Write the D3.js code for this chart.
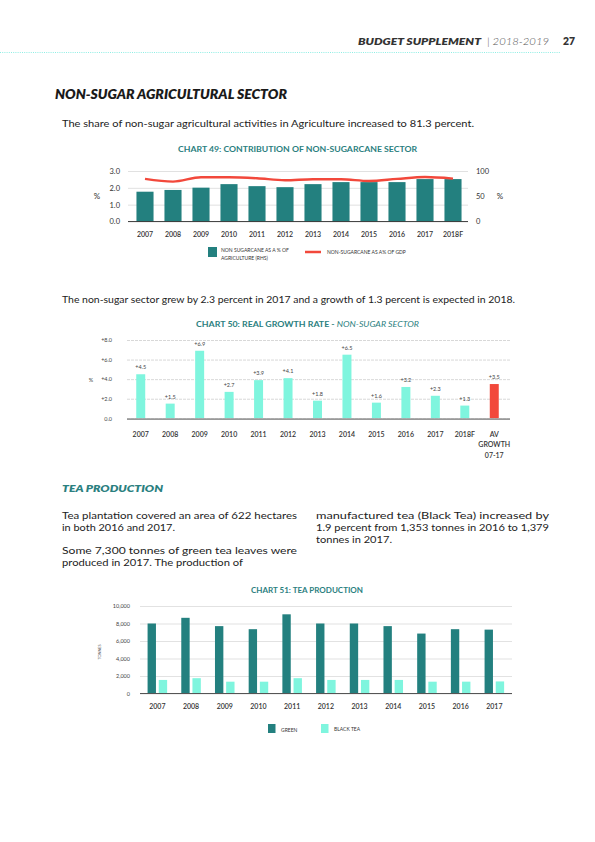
<!DOCTYPE html>
<html><head><meta charset="utf-8">
<script src="https://cdn.jsdelivr.net/npm/d3@7"></script>
<style>html,body{margin:0;padding:0;background:#fff}svg{display:block}</style>
</head><body>
<script>
// ---------- DATA ----------
const years49 = ['2007','2008','2009','2010','2011','2012','2013','2014','2015','2016','2017','2018F'];
const agriShare = [59, 62.5, 67, 74, 70, 68, 74, 78, 78, 78, 84, 84];           // bars, RHS (%)
const gdpShare = [2.53, 2.37, 2.63, 2.63, 2.57, 2.45, 2.51, 2.51, 2.41, 2.53, 2.64, 2.55]; // line, LHS (%)
const ticks49L = [0, 1, 2, 3];
const ticks49R = [0, 50, 100];

const cats50 = ['2007','2008','2009','2010','2011','2012','2013','2014','2015','2016','2017','2018F','AV GROWTH 07-17'];
const growth50 = [4.5, 1.5, 6.9, 2.7, 3.9, 4.1, 1.8, 6.5, 1.6, 3.2, 2.3, 1.3, 3.5];
const ticks50 = [0, 2, 4, 6, 8];

const years51 = ['2007','2008','2009','2010','2011','2012','2013','2014','2015','2016','2017'];
const greenLeaf = [8000, 8650, 7700, 7350, 9050, 8000, 8000, 7700, 6850, 7350, 7300];
const blackTea = [1550, 1750, 1350, 1350, 1750, 1550, 1550, 1550, 1350, 1353, 1379];
const ticks51 = [0, 2000, 4000, 6000, 8000, 10000];

// ---------- STYLE ----------
const TEAL = '#23807f', CYAN = '#7ff5de', RED = '#f2483b', TITLE = '#2b8080', INK = '#222';
const FONT = 'Lato, "Noto Sans", sans-serif';

const svg = d3.select('body').append('svg').attr('width', 595).attr('height', 842)
  .style('font-family', FONT);
svg.append('rect').attr('width', 595).attr('height', 842).attr('fill', '#fff');

function txt(g, x, y, s, o = {}) {
  const t = g.append('text').attr('x', x).attr('y', y).text(s)
    .attr('font-size', o.size || 10).attr('fill', o.fill || INK)
    .attr('text-anchor', o.anchor || 'start');
  if (o.weight) t.attr('font-weight', o.weight);
  if (o.italic) t.attr('font-style', 'italic');
  if (o.len) t.attr('textLength', o.len).attr('lengthAdjust', 'spacingAndGlyphs');
  return t;
}

// ---------- HEADER ----------
txt(svg, 358, 45, 'BUDGET SUPPLEMENT', {size: 10, weight: 800, italic: true, fill: '#333', len: 123});
txt(svg, 487, 45, '| 2018-2019', {size: 10, weight: 300, italic: true, fill: '#555', len: 62});
txt(svg, 563, 45, '27', {size: 10.5, weight: 800, fill: '#333', len: 12});
svg.append('line').attr('x1', 0).attr('x2', 561).attr('y1', 52.5).attr('y2', 52.5)
  .attr('stroke', '#8eeee4').attr('stroke-width', 1.2).attr('stroke-dasharray', '1,1.2');

txt(svg, 55, 99, 'NON-SUGAR AGRICULTURAL SECTOR', {size: 12.5, weight: 800, italic: true, fill: '#1a1a1a', len: 232});
txt(svg, 62, 127, 'The share of non-sugar agricultural activities in Agriculture increased to 81.3 percent.', {size: 10, len: 412});

// ---------- CHART 49 ----------
{
  const g = svg.append('g');
  txt(g, 297.5, 152, 'CHART 49: CONTRIBUTION OF NON-SUGARCANE SECTOR', {size: 7.6, weight: 700, fill: TITLE, anchor: 'middle', len: 239});
  const x = d3.scaleBand().domain(years49).range([131, 467]).paddingInner(0.39).paddingOuter(0.195);
  const yL = d3.scaleLinear().domain([0, 3]).range([221.5, 171]);
  const yR = d3.scaleLinear().domain([0, 100]).range([221.5, 171]);

  const ax = g.append('g').attr('transform', 'translate(128,0)')
    .call(d3.axisLeft(yL).tickValues(ticks49L).tickFormat(d3.format('.1f')).tickSize(-340).tickPadding(8));
  ax.select('.domain').remove();
  ax.selectAll('line').attr('stroke', '#d4d4d4').attr('stroke-width', 0.7);
  ax.selectAll('text').attr('font-size', 7.5).attr('fill', '#333').attr('font-family', FONT);
  const axr = g.append('g').attr('transform', 'translate(468,0)')
    .call(d3.axisRight(yR).tickValues(ticks49R).tickSize(0).tickPadding(8));
  axr.select('.domain').remove();
  axr.selectAll('text').attr('font-size', 7.5).attr('fill', '#333').attr('font-family', FONT);

  g.selectAll('rect.b').data(agriShare).join('rect').attr('class', 'b')
    .attr('x', (d, i) => x(years49[i])).attr('width', x.bandwidth())
    .attr('y', d => yR(d)).attr('height', d => yR(0) - yR(d)).attr('fill', TEAL);
  g.append('line').attr('x1', 128).attr('x2', 468).attr('y1', yL(0)).attr('y2', yL(0))
    .attr('stroke', '#333').attr('stroke-width', 0.9);

  const line = d3.line().x((d, i) => x(years49[i]) + x.bandwidth() / 2).y(d => yL(d)).curve(d3.curveMonotoneX);
  g.append('path').datum(gdpShare).attr('d', line).attr('fill', 'none')
    .attr('stroke', RED).attr('stroke-width', 2.4);

  txt(g, 97, 199, '%', {size: 8, fill: '#333', anchor: 'middle'});
  txt(g, 500, 199, '%', {size: 8, fill: '#333', anchor: 'middle'});

  g.selectAll('text.cat').data(years49).join('text').attr('class', 'cat')
    .attr('x', d => x(d) + x.bandwidth() / 2).attr('y', 237).attr('text-anchor', 'middle')
    .attr('font-size', 7).attr('font-weight', 600).attr('fill', '#333').text(d => d);

  g.append('rect').attr('x', 208).attr('y', 247).attr('width', 9).attr('height', 10).attr('fill', TEAL);
  txt(g, 221, 252, 'NON SUGARCANE AS A % OF', {size: 5, fill: '#333'});
  txt(g, 221, 259.5, 'AGRICULTURE (RHS)', {size: 5, fill: '#333'});
  g.append('line').attr('x1', 305).attr('x2', 321).attr('y1', 252).attr('y2', 252)
    .attr('stroke', RED).attr('stroke-width', 2.5);
  txt(g, 327, 254, 'NON-SUGARCANE AS A% OF GDP', {size: 5, fill: '#333'});
}

txt(svg, 62, 303, 'The non-sugar sector grew by 2.3 percent in 2017 and a growth of 1.3 percent is expected in 2018.', {size: 10, len: 453});

// ---------- CHART 50 ----------
{
  const g = svg.append('g');
  const t = txt(g, 196, 327, 'CHART 50: REAL GROWTH RATE - ', {size: 7.6, weight: 700, fill: TITLE});
  t.append('tspan').attr('font-weight', 400).attr('font-style', 'italic').text('NON-SUGAR SECTOR');
  t.attr('textLength', 223).attr('lengthAdjust', 'spacingAndGlyphs');

  const x = d3.scaleBand().domain(cats50).range([126, 509]).paddingInner(0.695).paddingOuter(0.3475);
  const y = d3.scaleLinear().domain([0, 8]).range([418.3, 340]);

  const ax = g.append('g').attr('transform', 'translate(127,0)')
    .call(d3.axisLeft(y).tickValues(ticks50).tickFormat(d => d === 0 ? '0.0' : '+' + d3.format('.1f')(d)).tickSize(-383).tickPadding(15));
  ax.select('.domain').remove();
  ax.selectAll('line').attr('stroke', '#bdbdbd').attr('stroke-width', 0.6).attr('stroke-dasharray', '3,1');
  ax.selectAll('text').attr('font-size', 5.5).attr('fill', '#444').attr('font-family', FONT);

  g.selectAll('rect.b').data(growth50).join('rect').attr('class', 'b')
    .attr('x', (d, i) => x(cats50[i])).attr('width', x.bandwidth())
    .attr('y', d => y(d)).attr('height', d => y(0) - y(d))
    .attr('fill', (d, i) => i === cats50.length - 1 ? RED : CYAN);
  g.selectAll('text.v').data(growth50).join('text').attr('class', 'v')
    .attr('x', (d, i) => x(cats50[i]) + x.bandwidth() / 2).attr('y', d => y(d) - 5)
    .attr('text-anchor', 'middle').attr('font-size', 5.5).attr('fill', '#444')
    .text(d => '+' + d3.format('.1f')(d));
  g.append('line').attr('x1', 127).attr('x2', 510).attr('y1', y(0) + 0.8).attr('y2', y(0) + 0.8)
    .attr('stroke', '#999').attr('stroke-width', 1.8);

  txt(g, 91, 382, '%', {size: 5.5, fill: '#444', anchor: 'middle'});

  g.selectAll('text.cat').data(cats50).join('text').attr('class', 'cat')
    .attr('x', d => x(d) + x.bandwidth() / 2).attr('y', 436.5).attr('text-anchor', 'middle')
    .attr('font-size', 7).attr('font-weight', 600).attr('fill', '#333')
    .each(function (d) {
      const parts = d === 'AV GROWTH 07-17' ? ['AV', 'GROWTH', '07-17'] : [d];
      d3.select(this).selectAll('tspan').data(parts).join('tspan')
        .attr('x', d3.select(this).attr('x')).attr('dy', (p, k) => k === 0 ? 0 : 10.5).text(p => p);
    });
}

// ---------- TEA PRODUCTION TEXT ----------
txt(svg, 62, 492, 'TEA PRODUCTION', {size: 10, weight: 800, italic: true, fill: TITLE, len: 101});
txt(svg, 62, 519, 'Tea plantation covered an area of 622 hectares', {size: 10, len: 235});
txt(svg, 62, 531, 'in both 2016 and 2017.', {size: 10, len: 113});
txt(svg, 62, 554, 'Some 7,300 tonnes of green tea leaves were', {size: 10, len: 235});
txt(svg, 62, 566, 'produced in 2017. The production of', {size: 10, len: 181});
txt(svg, 316, 519, 'manufactured tea (Black Tea) increased by', {size: 10, len: 233});
txt(svg, 316, 531, '1.9 percent from 1,353 tonnes in 2016 to 1,379', {size: 10, len: 233});
txt(svg, 316, 543, 'tonnes in 2017.', {size: 10, len: 76});

// ---------- CHART 51 ----------
{
  const g = svg.append('g');
  txt(g, 307, 593, 'CHART 51: TEA PRODUCTION', {size: 7.6, weight: 700, fill: TITLE, anchor: 'middle', len: 112});
  const x0 = d3.scaleBand().domain(years51).range([140.5, 511.2]).paddingInner(0.42).paddingOuter(0.21);
  const x1 = d3.scaleBand().domain(['green', 'black']).range([0, x0.bandwidth()]).paddingInner(0.25);
  const y = d3.scaleLinear().domain([0, 10000]).range([693.5, 606]);

  const ax = g.append('g').attr('transform', 'translate(140,0)')
    .call(d3.axisLeft(y).tickValues(ticks51).tickFormat(d3.format(',')).tickSize(-372).tickPadding(10));
  ax.select('.domain').remove();
  ax.selectAll('line').attr('stroke', '#cfcfcf').attr('stroke-width', 0.6);
  ax.selectAll('text').attr('font-size', 5.5).attr('fill', '#444').attr('font-family', FONT);

  g.selectAll('rect.g').data(greenLeaf).join('rect').attr('class', 'g')
    .attr('x', (d, i) => x0(years51[i]) + x1('green')).attr('width', x1.bandwidth())
    .attr('y', d => y(d)).attr('height', d => y(0) - y(d)).attr('fill', TEAL);
  g.selectAll('rect.k').data(blackTea).join('rect').attr('class', 'k')
    .attr('x', (d, i) => x0(years51[i]) + x1('black')).attr('width', x1.bandwidth())
    .attr('y', d => y(d)).attr('height', d => y(0) - y(d)).attr('fill', CYAN);
  g.append('line').attr('x1', 140).attr('x2', 512).attr('y1', y(0)).attr('y2', y(0))
    .attr('stroke', '#555').attr('stroke-width', 1);

  g.append('text').attr('transform', 'translate(101,652) rotate(-90)').attr('text-anchor', 'middle')
    .attr('font-size', 3.8).attr('fill', '#555').text('TONNES');

  g.selectAll('text.cat').data(years51).join('text').attr('class', 'cat')
    .attr('x', d => x0(d) + x0.bandwidth() / 2).attr('y', 709).attr('text-anchor', 'middle')
    .attr('font-size', 7).attr('font-weight', 600).attr('fill', '#333').text(d => d);

  g.append('rect').attr('x', 268).attr('y', 724).attr('width', 7.5).attr('height', 9).attr('fill', TEAL);
  txt(g, 281, 731.5, 'GREEN', {size: 5, fill: '#333'});
  g.append('rect').attr('x', 321).attr('y', 724).attr('width', 7.5).attr('height', 9).attr('fill', CYAN);
  txt(g, 334, 731, 'BLACK TEA', {size: 5, fill: '#333'});
}
</script>
</body></html>
